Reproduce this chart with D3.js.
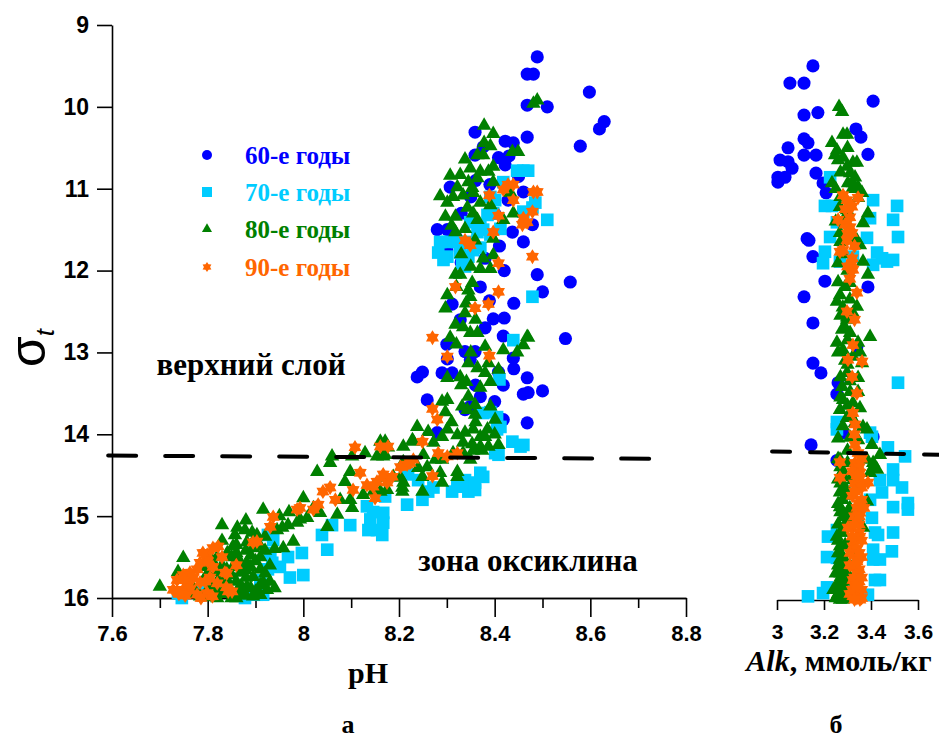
<!DOCTYPE html>
<html>
<head>
<meta charset="utf-8">
<script src="https://cdn.jsdelivr.net/npm/d3@7"></script>
<style>
  body { margin: 0; background: #fff; }
</style>
</head>
<body>
<div id="chart"></div>
<script>
// series (decades)
const seriesNames = ['60-е годы', '70-е годы', '80-е годы', '90-е годы'];

// tick labels
const sigmaTicks = [9, 10, 11, 12, 13, 14, 15, 16];
const phTicks = [7.6, 7.8, 8, 8.2, 8.4, 8.6, 8.8];
const phMinorTicks = [7.7, 7.9, 8.1, 8.3, 8.5, 8.7];
const alkTicks = [3, 3.2, 3.4, 3.6];

// boundary between upper layer and oxycline (dashed)
const phBoundary = [[7.592, 14.26], [8.745, 14.30]];
const alkBoundary = [[2.979, 14.21], [3.689, 14.25]];

// panel a: [pH, sigma_t]
const ph60s = [
  [8.489, 9.39], [8.468, 9.60], [8.481, 9.60], [8.598, 9.82], [8.468, 9.98], [8.510, 10.00],
  [8.629, 10.18], [8.619, 10.27], [8.579, 10.48], [8.359, 10.31], [8.468, 10.37], [8.422, 10.42],
  [8.439, 10.44], [8.376, 10.49], [8.359, 10.59], [8.408, 10.62], [8.422, 10.71], [8.307, 10.98],
  [8.460, 11.04], [8.428, 11.14], [8.280, 11.50], [8.301, 11.50], [8.479, 11.44], [8.437, 11.53],
  [8.460, 11.65], [8.489, 12.05], [8.558, 12.14], [8.500, 12.26], [8.311, 12.41], [8.389, 12.37],
  [8.397, 12.59], [8.420, 12.58], [8.328, 12.60], [8.418, 12.80], [8.548, 12.83], [8.338, 12.99],
  [8.359, 12.99], [8.349, 13.09], [8.301, 13.08], [8.249, 13.24], [8.238, 13.30], [8.290, 13.25],
  [8.311, 13.25], [8.439, 13.07], [8.408, 13.24], [8.418, 13.40], [8.468, 13.31], [8.460, 13.51],
  [8.470, 13.49], [8.500, 13.47], [8.259, 13.58], [8.349, 13.66], [8.338, 13.70], [8.418, 13.82],
  [8.468, 13.86], [8.280, 13.98], [8.370, 13.54], [8.330, 11.90], [8.380, 11.85], [8.300, 11.75],
  [8.370, 12.20], [8.400, 11.30], [8.450, 10.85], [8.360, 10.90], [8.410, 11.70], [8.330, 11.30],
  [8.350, 11.10], [8.320, 11.60], [8.420, 12.00], [8.440, 12.40], [8.380, 12.70], [8.300, 12.90],
  [8.360, 13.40], [8.440, 13.20], [8.400, 13.60], [8.390, 10.95], [8.430, 10.60]
];
const ph70s = [
  [8.460, 10.78], [8.447, 10.78], [8.470, 10.78], [8.418, 10.92], [8.401, 11.14], [8.391, 11.10],
  [8.485, 11.17], [8.479, 11.23], [8.510, 11.38], [8.460, 11.28], [8.385, 11.32], [8.397, 11.30],
  [8.412, 11.49], [8.376, 11.50], [8.364, 11.53], [8.391, 11.56], [8.370, 11.47], [8.349, 11.41],
  [8.286, 11.65], [8.301, 11.65], [8.322, 11.65], [8.282, 11.78], [8.301, 11.83], [8.328, 11.78],
  [8.345, 11.83], [8.355, 11.75], [8.370, 11.72], [8.293, 11.87], [8.332, 11.91], [8.338, 11.95],
  [8.328, 11.69], [8.349, 11.65], [8.479, 12.32], [8.439, 12.85], [8.410, 13.33], [8.391, 13.73],
  [8.376, 13.74], [8.405, 13.79], [8.412, 13.91], [8.405, 13.94], [8.437, 14.09], [8.460, 14.13],
  [8.454, 14.15], [8.401, 14.23], [8.408, 14.25], [8.370, 14.47], [8.376, 14.52], [8.338, 14.56],
  [8.359, 14.59], [8.345, 14.70], [8.322, 14.64], [8.311, 14.70], [8.359, 14.68], [8.272, 14.65],
  [8.261, 14.70], [8.249, 14.80], [8.217, 14.86], [8.167, 14.96], [8.219, 14.49], [8.240, 14.56],
  [8.171, 14.76], [8.167, 15.08], [8.154, 15.17], [8.165, 15.23], [8.136, 15.17], [8.140, 15.04],
  [8.133, 14.88], [8.146, 14.95], [8.098, 15.11], [8.060, 15.11], [8.039, 15.23], [8.050, 15.41],
  [7.997, 15.45], [7.968, 15.50], [7.972, 15.75], [8.000, 15.72], [7.931, 15.45], [7.935, 15.57],
  [7.926, 15.65], [7.951, 15.62], [7.910, 15.78], [7.914, 15.84], [7.903, 15.96], [7.916, 15.96],
  [7.746, 16.00], [7.738, 15.94], [7.926, 15.23], [7.937, 15.29], [7.784, 15.90], [7.878, 16.00]
];
const ph80s = [
  [8.489, 9.92], [8.481, 9.96], [8.378, 10.23], [8.397, 10.33], [8.378, 10.44], [8.391, 10.48],
  [8.364, 10.59], [8.376, 10.59], [8.437, 10.55], [8.449, 10.55], [8.338, 10.64], [8.397, 10.73],
  [8.349, 10.75], [8.370, 10.79], [8.387, 10.79], [8.307, 10.84], [8.328, 10.83], [8.345, 10.92],
  [8.364, 10.87], [8.322, 10.98], [8.353, 10.99], [8.397, 10.92], [8.286, 11.09], [8.301, 11.17],
  [8.313, 11.10], [8.334, 11.08], [8.355, 11.05], [8.370, 11.17], [8.391, 11.20], [8.433, 11.05],
  [8.343, 11.23], [8.355, 11.30], [8.297, 11.34], [8.318, 11.34], [8.364, 11.38], [8.439, 11.30],
  [8.418, 11.38], [8.318, 11.53], [8.338, 11.49], [8.397, 11.61], [8.359, 11.63], [8.376, 11.85],
  [8.397, 11.81], [8.370, 11.98], [8.391, 11.98], [8.318, 12.05], [8.328, 12.05], [8.353, 12.15],
  [8.345, 12.24], [8.349, 12.32], [8.301, 12.30], [8.297, 12.46], [8.338, 12.52], [8.318, 12.66],
  [8.334, 12.69], [8.349, 12.76], [8.364, 12.76], [8.468, 12.81], [8.307, 12.82], [8.470, 12.82],
  [8.460, 12.91], [8.380, 12.93], [8.418, 12.97], [8.447, 13.00], [8.345, 13.13], [8.364, 13.19],
  [8.387, 13.13], [8.408, 13.21], [8.301, 13.31], [8.328, 13.30], [8.341, 13.36], [8.391, 13.36],
  [8.370, 13.43], [8.301, 13.58], [8.345, 13.54], [8.359, 13.64], [8.332, 13.66], [8.343, 13.70],
  [8.391, 13.66], [8.297, 13.73], [8.359, 13.76], [8.401, 13.82], [8.385, 13.94], [8.238, 13.91],
  [8.261, 13.97], [8.301, 13.94], [8.322, 14.01], [8.338, 13.98], [8.355, 13.94], [8.370, 14.03],
  [8.380, 14.03], [8.228, 14.07], [8.272, 14.10], [8.290, 14.03], [8.334, 14.10], [8.353, 14.12],
  [8.370, 14.15], [8.387, 14.15], [8.408, 14.13], [8.209, 14.15], [8.177, 14.16], [8.251, 14.25],
  [8.276, 14.31], [8.290, 14.31], [8.313, 14.23], [8.334, 14.23], [8.355, 14.20], [8.374, 14.20],
  [8.167, 14.27], [8.209, 14.34], [8.240, 14.41], [8.259, 14.40], [8.286, 14.47], [8.322, 14.46],
  [8.349, 14.31], [8.167, 14.53], [8.188, 14.52], [8.209, 14.59], [8.249, 14.52], [8.290, 14.59],
  [8.322, 14.52], [8.175, 14.68], [8.207, 14.70], [8.249, 14.70], [8.029, 14.46], [8.056, 14.35],
  [8.060, 14.27], [8.098, 14.46], [8.087, 14.58], [8.102, 14.27], [8.129, 14.23], [8.154, 14.27],
  [8.171, 14.25], [8.161, 14.09], [8.171, 14.09], [8.230, 14.09], [8.203, 14.53], [8.207, 14.65],
  [8.146, 14.70], [8.161, 14.70], [8.125, 14.74], [8.098, 14.80], [8.077, 14.80], [8.102, 14.90],
  [8.071, 14.98], [8.050, 15.13], [8.021, 14.90], [8.035, 14.96], [8.000, 14.78], [8.008, 15.02],
  [7.993, 15.04], [7.968, 15.11], [7.987, 15.08], [7.945, 15.17], [7.956, 15.14], [7.979, 15.31],
  [7.958, 15.39], [7.916, 14.92], [7.920, 15.25], [7.903, 15.23], [7.830, 15.11], [7.857, 15.23],
  [7.862, 15.14], [7.878, 15.17], [7.893, 15.20], [7.882, 15.32], [7.895, 15.39], [7.910, 15.37],
  [7.853, 15.37], [7.862, 15.53], [7.749, 15.51], [7.738, 15.68], [7.700, 15.86], [7.841, 15.45],
  [7.853, 15.62], [7.868, 15.69], [7.882, 15.57], [7.895, 15.74], [7.910, 15.65], [7.916, 15.81],
  [7.924, 15.90], [7.882, 15.86], [7.868, 15.90], [7.841, 15.78], [7.826, 15.74], [7.811, 15.86],
  [7.799, 15.94], [7.784, 15.98], [7.820, 16.00], [7.853, 15.98], [7.895, 15.98], [7.910, 15.84],
  [7.800, 15.70], [7.830, 15.60], [7.860, 15.80], [7.870, 15.95], [7.900, 15.55], [7.850, 15.50],
  [7.880, 15.66], [7.840, 15.92], [7.790, 15.80], [7.820, 15.50], [7.930, 15.60], [7.770, 15.88],
  [7.760, 15.95], [7.810, 15.55], [7.840, 15.65], [7.860, 15.45], [7.890, 15.48], [7.870, 15.85],
  [7.900, 15.92], [7.850, 16.00], [7.830, 15.95], [7.880, 15.75], [7.920, 15.70], [7.800, 15.90],
  [7.860, 15.35], [7.900, 15.30], [7.940, 15.40], [7.830, 15.30], [7.880, 15.05], [7.950, 15.00],
  [7.970, 14.95], [8.310, 11.45], [8.330, 11.80], [8.350, 11.95], [8.320, 12.20], [8.340, 12.40],
  [8.360, 12.60], [8.320, 12.90], [8.350, 13.00], [8.380, 13.25], [8.330, 13.40], [8.360, 13.85],
  [8.310, 13.85], [8.290, 13.60], [8.400, 14.00], [7.790, 15.62], [7.820, 15.68], [7.850, 15.72],
  [7.870, 15.58], [7.890, 15.62], [7.910, 15.50], [7.920, 15.42], [7.880, 15.42], [7.840, 15.84],
  [7.860, 15.93], [7.890, 15.88], [7.910, 15.96], [7.820, 15.90], [7.800, 15.99], [7.860, 16.00],
  [7.880, 15.97], [7.930, 15.80], [7.940, 15.88]
];
const ph90s = [
  [8.428, 10.95], [8.439, 10.95], [8.418, 11.01], [8.481, 11.04], [8.489, 11.04], [8.389, 11.08],
  [8.439, 11.14], [8.479, 11.28], [8.460, 11.36], [8.468, 11.41], [8.458, 11.44], [8.408, 11.33],
  [8.397, 11.53], [8.338, 11.63], [8.349, 11.69], [8.479, 11.83], [8.408, 11.91], [8.318, 12.20],
  [8.408, 12.26], [8.359, 12.46], [8.387, 12.41], [8.270, 12.82], [8.301, 13.05], [8.389, 13.04],
  [8.270, 13.69], [8.280, 13.82], [8.249, 14.09], [8.177, 14.15], [8.282, 14.23], [8.301, 14.27],
  [8.322, 14.23], [8.230, 14.31], [8.217, 14.37], [8.203, 14.40], [8.270, 14.51], [8.167, 14.49],
  [8.175, 14.59], [8.186, 14.52], [8.108, 14.16], [8.119, 14.47], [8.104, 14.68], [8.161, 14.15],
  [8.223, 14.35], [8.154, 14.58], [8.146, 14.64], [8.133, 14.62], [8.150, 14.78], [8.067, 14.80],
  [8.056, 14.65], [8.041, 14.70], [8.031, 14.86], [8.021, 14.92], [7.993, 14.90], [7.987, 14.92],
  [7.937, 15.01], [7.931, 15.13], [7.903, 15.31], [7.895, 15.32], [7.836, 15.69], [7.843, 15.92],
  [7.851, 15.92], [7.822, 15.37], [7.811, 15.39], [7.799, 15.47], [7.784, 15.57], [7.778, 15.65],
  [7.763, 15.69], [7.749, 15.72], [7.736, 15.78], [7.728, 15.90], [7.811, 15.62], [7.805, 15.75],
  [7.784, 15.81], [7.763, 15.90], [7.778, 15.96], [7.749, 15.90], [7.799, 15.94], [7.753, 15.97],
  [7.786, 16.00], [7.839, 15.87], [7.795, 15.80], [7.800, 15.55], [7.770, 15.75], [7.820, 15.82],
  [7.760, 15.83], [7.750, 15.78], [7.740, 15.95], [7.810, 15.98], [7.840, 15.70], [7.790, 15.45],
  [7.860, 15.60], [7.830, 15.50]
];

// panel б: [Alk, sigma_t]
const alk60s = [
  [3.153, 9.50], [3.055, 9.71], [3.115, 9.71], [3.409, 9.93], [3.115, 10.10], [3.174, 10.07],
  [3.336, 10.27], [3.357, 10.37], [3.115, 10.39], [3.132, 10.44], [3.115, 10.59], [3.166, 10.59],
  [3.047, 10.50], [3.387, 10.58], [3.013, 10.65], [3.047, 10.67], [3.064, 10.75], [3.004, 10.86],
  [3.034, 10.86], [3.004, 10.92], [3.166, 10.81], [3.196, 10.93], [3.209, 11.05], [3.128, 11.61],
  [3.136, 11.63], [3.153, 11.83], [3.204, 12.13], [3.387, 12.20], [3.115, 12.32], [3.153, 12.64],
  [3.153, 13.13], [3.187, 13.25], [3.260, 13.37], [3.255, 13.51], [3.281, 13.98], [3.145, 14.13],
  [3.255, 14.32], [3.409, 14.03], [3.340, 12.93]
];
const alk70s = [
  [3.226, 10.86], [3.204, 11.21], [3.234, 11.21], [3.409, 11.14], [3.511, 11.21], [3.396, 11.36],
  [3.494, 11.38], [3.255, 11.41], [3.226, 11.59], [3.383, 11.60], [3.515, 11.59], [3.204, 11.77],
  [3.426, 11.78], [3.447, 11.85], [3.196, 11.91], [3.268, 11.89], [3.409, 11.93], [3.468, 11.89],
  [3.494, 11.87], [3.323, 11.83], [3.515, 13.37], [3.255, 13.85], [3.404, 14.03], [3.472, 14.16],
  [3.545, 14.27], [3.494, 14.43], [3.494, 14.56], [3.438, 14.56], [3.532, 14.65], [3.447, 14.71],
  [3.396, 14.80], [3.494, 14.89], [3.557, 14.84], [3.557, 14.92], [3.404, 15.02], [3.417, 15.20],
  [3.494, 15.20], [3.217, 15.25], [3.213, 15.50], [3.255, 15.51], [3.255, 15.17], [3.409, 15.41],
  [3.489, 15.43], [3.409, 15.53], [3.417, 15.78], [3.438, 15.53], [3.213, 15.87], [3.196, 15.94],
  [3.132, 15.98], [3.387, 15.96], [3.438, 15.78], [3.430, 15.23], [3.255, 13.94], [3.396, 13.98]
];
const alk80s = [
  [3.264, 10.00], [3.277, 10.06], [3.281, 10.34], [3.298, 10.34], [3.234, 10.44], [3.255, 10.53],
  [3.247, 10.59], [3.260, 10.65], [3.281, 10.62], [3.298, 10.73], [3.323, 10.68], [3.340, 10.68],
  [3.234, 10.93], [3.311, 10.81], [3.332, 10.86], [3.323, 10.93], [3.345, 10.98], [3.302, 10.93],
  [3.362, 11.05], [3.345, 11.11], [3.268, 11.22], [3.298, 11.26], [3.387, 11.30], [3.366, 11.42],
  [3.268, 11.54], [3.298, 11.54], [3.340, 11.63], [3.353, 11.69], [3.260, 11.91], [3.366, 11.89],
  [3.387, 12.05], [3.260, 12.14], [3.268, 12.30], [3.255, 12.38], [3.340, 12.44], [3.298, 12.57],
  [3.323, 12.52], [3.298, 12.60], [3.277, 12.72], [3.311, 12.76], [3.255, 12.88], [3.281, 12.97],
  [3.345, 12.88], [3.396, 12.81], [3.323, 13.05], [3.353, 13.00], [3.362, 13.13], [3.298, 13.25],
  [3.345, 13.31], [3.277, 13.42], [3.311, 13.48], [3.345, 13.48], [3.281, 13.58], [3.323, 13.62],
  [3.353, 13.68], [3.268, 13.70], [3.298, 13.80], [3.332, 13.86], [3.366, 13.91], [3.383, 13.94],
  [3.311, 14.04], [3.345, 14.07], [3.404, 14.13], [3.438, 14.25], [3.268, 14.31], [3.383, 14.31],
  [3.409, 14.40], [3.396, 14.47], [3.281, 14.52], [3.323, 14.56], [3.268, 14.71], [3.311, 14.74],
  [3.383, 14.82], [3.268, 14.89], [3.281, 15.01], [3.340, 14.96], [3.319, 15.04], [3.366, 15.14],
  [3.255, 15.25], [3.268, 15.37], [3.323, 15.45], [3.268, 15.53], [3.277, 15.65], [3.268, 15.78],
  [3.281, 15.90], [3.268, 16.02], [3.340, 15.45], [3.345, 15.69], [3.340, 15.98], [3.311, 15.31],
  [3.409, 14.35], [3.426, 14.43], [3.260, 15.60], [3.270, 15.70], [3.280, 15.85], [3.260, 15.95],
  [3.290, 15.55], [3.270, 15.45], [3.280, 15.20], [3.260, 15.10], [3.300, 15.80], [3.290, 16.00],
  [3.270, 14.60], [3.280, 14.80], [3.290, 15.10], [3.250, 11.00], [3.270, 11.10], [3.290, 11.35],
  [3.310, 11.60], [3.280, 11.80], [3.300, 12.00], [3.290, 12.20], [3.310, 12.35], [3.280, 12.45],
  [3.300, 12.85], [3.290, 13.10], [3.310, 13.35], [3.270, 13.55], [3.300, 13.65], [3.280, 13.90],
  [3.260, 14.05], [3.300, 14.20], [3.270, 14.40], [3.320, 14.50], [3.290, 14.65], [3.260, 14.85],
  [3.300, 14.95], [3.270, 15.20], [3.290, 15.35], [3.260, 15.45], [3.280, 15.60], [3.300, 15.70],
  [3.260, 15.85], [3.280, 15.95], [3.310, 15.60], [3.250, 15.70], [3.240, 15.90], [3.260, 14.30],
  [3.280, 14.45], [3.260, 14.55], [3.290, 14.75], [3.270, 14.95], [3.290, 15.00], [3.260, 15.30],
  [3.280, 15.50], [3.270, 15.75], [3.290, 15.90], [3.250, 16.00], [3.280, 16.02], [3.300, 14.35],
  [3.310, 14.90], [3.260, 13.00], [3.300, 13.15], [3.270, 13.30], [3.310, 13.75], [3.270, 12.55],
  [3.290, 12.70], [3.310, 12.15], [3.270, 11.65], [3.250, 11.40], [3.320, 11.00], [3.300, 10.50],
  [3.270, 10.80]
];
const alk90s = [
  [3.281, 11.08], [3.298, 11.14], [3.345, 11.11], [3.319, 11.22], [3.260, 11.38], [3.289, 11.44],
  [3.311, 11.47], [3.319, 11.54], [3.298, 11.63], [3.281, 11.75], [3.268, 11.77], [3.319, 11.91],
  [3.323, 11.99], [3.340, 12.27], [3.298, 12.50], [3.323, 12.91], [3.302, 13.09], [3.362, 13.11],
  [3.323, 13.74], [3.332, 13.88], [3.332, 14.13], [3.345, 14.23], [3.268, 14.34], [3.332, 14.35],
  [3.353, 14.47], [3.268, 14.53], [3.387, 14.59], [3.340, 14.68], [3.345, 14.84], [3.353, 14.96],
  [3.340, 15.04], [3.302, 15.14], [3.323, 15.37], [3.340, 15.53], [3.345, 15.69], [3.332, 15.86],
  [3.323, 15.98], [3.353, 16.02], [3.353, 15.25], [3.311, 15.45], [3.332, 15.62], [3.323, 15.78],
  [3.345, 15.94], [3.330, 15.30], [3.350, 15.10], [3.340, 14.90], [3.330, 14.60], [3.350, 14.40],
  [3.340, 15.70], [3.320, 15.90], [3.350, 15.80], [3.310, 11.20], [3.300, 11.55], [3.320, 11.85],
  [3.310, 12.10], [3.330, 12.60], [3.320, 13.30], [3.340, 13.50], [3.330, 14.00], [3.360, 14.30],
  [3.320, 14.45], [3.350, 14.55], [3.320, 14.75], [3.360, 14.80], [3.330, 15.00], [3.350, 15.20],
  [3.320, 15.15], [3.340, 15.40], [3.360, 15.50], [3.310, 15.60], [3.350, 15.65], [3.330, 15.75],
  [3.360, 15.90], [3.310, 15.95], [3.340, 16.00], [3.340, 14.50], [3.360, 14.65], [3.330, 14.70],
  [3.350, 14.95], [3.330, 15.10], [3.360, 15.30], [3.340, 15.55], [3.360, 15.75], [3.340, 15.85],
  [3.360, 16.00], [3.330, 16.02], [3.350, 15.45], [3.320, 15.25], [3.350, 15.00], [3.370, 14.90],
  [3.310, 11.35], [3.330, 11.70], [3.300, 11.95], [3.290, 11.25]
];

let width = 939,
  height = 740;

const serif = '"Liberation Serif", "Times New Roman", serif';
const sans = '"Liberation Sans", Arial, sans-serif';

// six-pointed star for the 90s
const star6 = {
  draw(context, size) {
    const r = Math.sqrt(size), ri = r * 0.6;
    for (let i = 0; i < 12; i++) {
      const a = Math.PI / 6 * i, rr = i % 2 ? ri : r;
      const px = rr * Math.sin(a), py = -rr * Math.cos(a);
      if (i === 0) context.moveTo(px, py); else context.lineTo(px, py);
    }
    context.closePath();
  }
};

let color = d3.scaleOrdinal()
  .domain(seriesNames)
  .range(['#0000ff', '#00ccff', '#008000', '#ff6600']);

let shape = d3.scaleOrdinal()
  .domain(seriesNames)
  .range([d3.symbolCircle, d3.symbolSquare, d3.symbolTriangle, star6]);

let markSize = d3.scaleOrdinal()
  .domain(seriesNames)
  .range([135, 160, 90, 56]);

let legendSize = d3.scaleOrdinal()
  .domain(seriesNames)
  .range([78, 100, 44, 26]);

let y = d3.scaleLinear().domain([9, 16]).range([25, 598]);
let xPh = d3.scaleLinear().domain([7.6, 8.8]).range([112, 686]);
let xAlk = d3.scaleLinear().domain([3, 3.6]).range([777, 918]);

function chart() {
  const svg = d3.select('#chart').append('svg')
    .attr('width', width)
    .attr('height', height)
    .style('background', '#fff');

  // axes of panel a
  svg.append('g')
    .attr('transform', `translate(${xPh(7.6)},0)`)
    .call(d3.axisLeft(y).tickValues(sigmaTicks).tickSize(15).tickSizeOuter(0).tickPadding(8).tickFormat(d3.format('d')))
    .call(g => g.selectAll('text').style('font', `bold 23px ${sans}`).attr('fill', '#000'));

  svg.append('g')
    .attr('transform', `translate(0,${y(16)})`)
    .call(d3.axisBottom(xPh).tickValues(phMinorTicks).tickSize(10).tickSizeOuter(0).tickFormat(''));

  svg.append('g')
    .attr('transform', `translate(0,${y(16)})`)
    .call(d3.axisBottom(xPh).tickValues(phTicks).tickSize(19).tickSizeOuter(0).tickPadding(8).tickFormat(d3.format('~g')))
    .call(g => g.selectAll('text').style('font', `bold 22px ${sans}`).attr('fill', '#000'));

  // axis of panel б
  svg.append('g')
    .attr('transform', `translate(0,${y(16) + 2})`)
    .call(d3.axisBottom(xAlk).tickValues(alkTicks).tickSize(10).tickSizeOuter(0).tickPadding(14).tickFormat(d3.format('~g')))
    .call(g => g.selectAll('text').style('font', `bold 21px ${sans}`).attr('fill', '#000'));

  svg.selectAll('.domain, .tick line').attr('stroke', '#000').attr('stroke-width', 1.6);

  // markers
  const layers = [
    [seriesNames[0], ph60s, alk60s],
    [seriesNames[1], ph70s, alk70s],
    [seriesNames[2], ph80s, alk80s],
    [seriesNames[3], ph90s, alk90s]
  ];

  layers.forEach(([name, phPts, alkPts]) => {
    const sym = d3.symbol().type(shape(name)).size(markSize(name));
    svg.append('g').selectAll('path')
      .data(phPts)
      .enter().append('path')
      .attr('transform', d => `translate(${xPh(d[0])},${y(d[1])})`)
      .attr('d', sym)
      .attr('fill', color(name));
    svg.append('g').selectAll('path')
      .data(alkPts)
      .enter().append('path')
      .attr('transform', d => `translate(${xAlk(d[0])},${y(d[1])})`)
      .attr('d', sym)
      .attr('fill', color(name));
  });

  // dashed boundary lines
  svg.append('path')
    .attr('d', d3.line().x(d => xPh(d[0])).y(d => y(d[1]))(phBoundary))
    .attr('stroke', '#000').attr('stroke-width', 4).attr('fill', 'none')
    .attr('stroke-linecap', 'round').attr('stroke-dasharray', '28,29');

  svg.append('path')
    .attr('d', d3.line().x(d => xAlk(d[0])).y(d => y(d[1]))(alkBoundary))
    .attr('stroke', '#000').attr('stroke-width', 4).attr('fill', 'none')
    .attr('stroke-linecap', 'round').attr('stroke-dasharray', '18,20');

  // legend
  const legend = svg.append('g');
  const legendY = [155, 192, 229, 267];
  seriesNames.forEach((name, i) => {
    legend.append('path')
      .attr('transform', `translate(207,${legendY[i]})`)
      .attr('d', d3.symbol().type(shape(name)).size(legendSize(name)))
      .attr('fill', color(name));
    legend.append('text')
      .attr('x', 245)
      .attr('y', legendY[i] + 9)
      .style('font', `bold 25px ${serif}`)
      .attr('fill', color(name))
      .text(name);
  });

  // labels
  svg.append('text')
    .attr('x', 251).attr('y', 375)
    .attr('text-anchor', 'middle')
    .style('font', `bold 31px ${serif}`)
    .text('верхний слой');

  svg.append('text')
    .attr('x', 528).attr('y', 571)
    .attr('text-anchor', 'middle')
    .style('font', `bold 31px ${serif}`)
    .text('зона оксиклина');

  svg.append('text')
    .attr('x', 368).attr('y', 683)
    .attr('text-anchor', 'middle')
    .style('font', `bold 30px ${serif}`)
    .text('pH');

  const alkLabel = svg.append('text')
    .attr('x', 839).attr('y', 671)
    .attr('text-anchor', 'middle')
    .style('font', `bold 30px ${serif}`);
  alkLabel.append('tspan').style('font-style', 'italic').text('Alk');
  alkLabel.append('tspan').text(', ммоль/кг');

  svg.append('text')
    .attr('x', 348).attr('y', 733)
    .attr('text-anchor', 'middle')
    .style('font', `bold 26px ${serif}`)
    .text('а');

  svg.append('text')
    .attr('x', 836).attr('y', 733)
    .attr('text-anchor', 'middle')
    .style('font', `bold 26px ${serif}`)
    .text('б');

  const sig = svg.append('text')
    .attr('transform', 'translate(45,348) rotate(-90)')
    .attr('text-anchor', 'middle')
    .style('font', `50px ${sans}`);
  sig.append('tspan').text('σ');
  sig.append('tspan').attr('dy', 9).style('font', `italic 26px ${sans}`).text('t');

  return svg.node();
}

chart();
</script>
</body>
</html>
